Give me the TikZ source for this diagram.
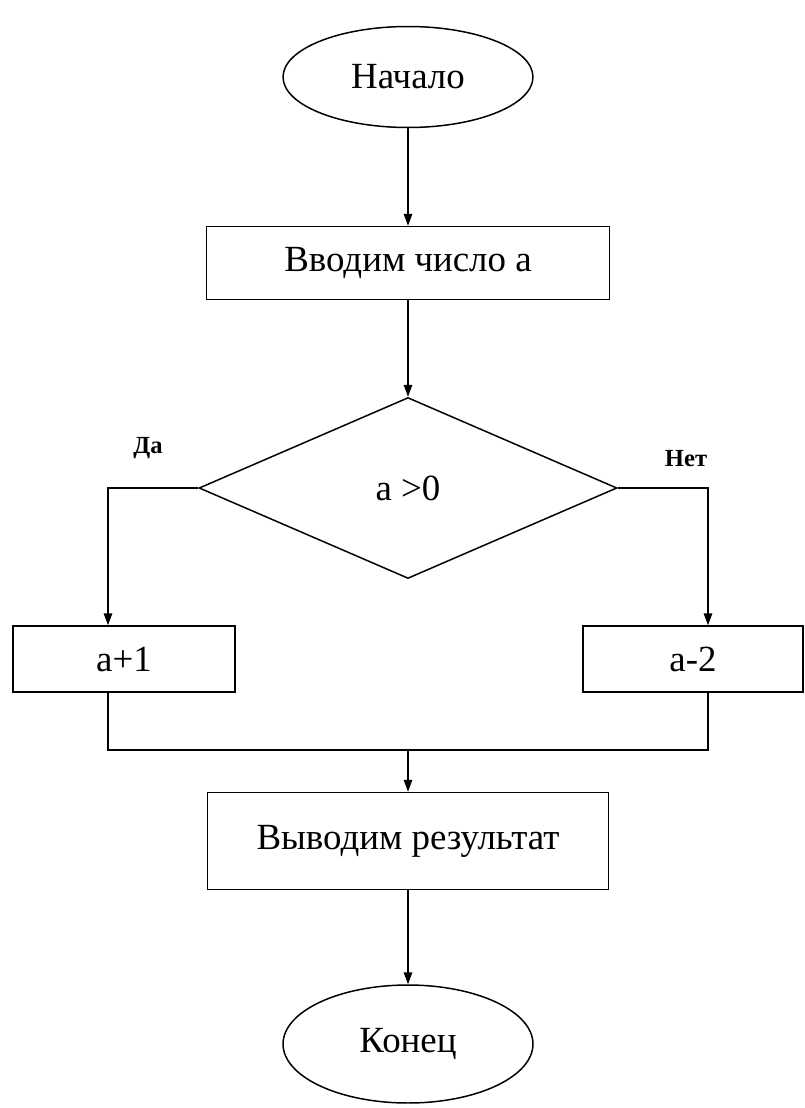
\documentclass[tikz,border=0pt]{standalone}
\usepackage{fontspec}
\setmainfont{Liberation Serif}
\usetikzlibrary{shapes,positioning}
\usetikzlibrary{arrows.meta}
\usepgflibrary{shapes.geometric}
\tikzset{>={Stealth[inset=0pt,length=0.24cm,width=0.17cm]}}
\tikzset{
    block/.style={draw,rectangle,inner sep=0pt,font=\fontsize{21}{25}\selectfont},
    term/.style={draw,ellipse,inner sep=0pt,minimum width=5cm,font=\fontsize{21}{25}\selectfont},
    cond/.style={draw,diamond,inner sep=0pt,minimum width=8.36cm,minimum height=3.62cm,font=\fontsize{21}{25}\selectfont},
    branch/.style={font=\bfseries\fontsize{14}{16}\selectfont}
}

\begin{document}
\begin{tikzpicture}[x=0.02cm,y=-0.02cm,line width=0.85pt]
    \useasboundingbox (0,0) rectangle (804,1108);
    \node[term,minimum height=2.02cm] (start) at (408,77) {Начало};
    \node[block,minimum width=8.06cm,minimum height=1.46cm] (input) at (408,263) {Вводим число а};
    \node[cond] (test) at (408,488) {а \textgreater0};
    \node[block,minimum width=4.44cm,minimum height=1.32cm] (plus) at (124,659) {а+1};
    \node[block,minimum width=4.4cm,minimum height=1.32cm] (minus) at (693,659) {а-2};
    \node[block,minimum width=8.02cm,minimum height=1.94cm] (output) at (408,841) {Выводим результат};
    \node[term,minimum height=2.36cm] (end) at (408,1044) {Конец};
    \node[branch] (yes) at (148,448) {Да};
    \node[branch] (no) at (686,459) {Нет};
    \coordinate (left) at (108,0);
    \coordinate (right) at (708,0);
    \coordinate (join) at (408,750);
    \draw[->] (start) -- (input);
    \draw[->] (input) -- (test);
    \draw[->] (test.west) -| (plus.north -| left);
    \draw[->] (test.east) -| (minus.north -| right);
    \draw (plus.south -| left) |- (join);
    \draw (minus.south -| right) |- (join);
    \draw[->] (join) -- (output);
    \draw[->] (output) -- (end);
\end{tikzpicture}
\end{document}
